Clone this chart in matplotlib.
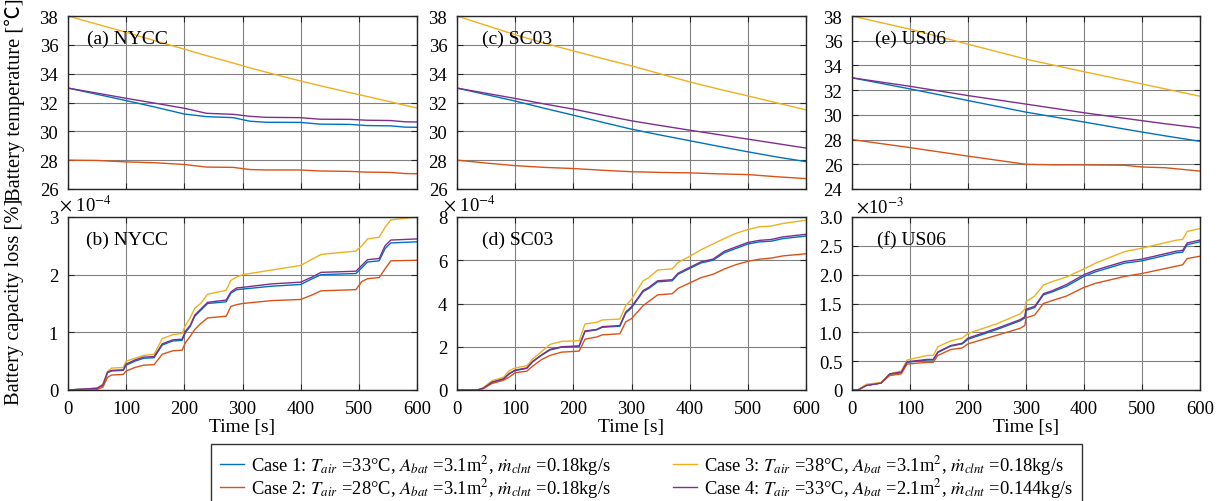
import matplotlib
matplotlib.use("Agg")
import matplotlib.pyplot as plt
from matplotlib.ticker import FuncFormatter, MultipleLocator
from matplotlib.lines import Line2D

plt.rcParams['font.family'] = ['Liberation Serif', 'Noto Sans CJK SC', 'DejaVu Sans']
plt.rcParams['mathtext.fontset'] = 'stix'

# ---------------- data ----------------
cases = ["Case 1", "Case 2", "Case 3", "Case 4"]
legend_labels = [
    r"Case 1: $T_{air}$ =33°C, $A_{bat}$ =3.1m$^2$, $\dot{m}_{clnt}$ =0.18kg/s",
    r"Case 2: $T_{air}$ =28°C, $A_{bat}$ =3.1m$^2$, $\dot{m}_{clnt}$ =0.18kg/s",
    r"Case 3: $T_{air}$ =38°C, $A_{bat}$ =3.1m$^2$, $\dot{m}_{clnt}$ =0.18kg/s",
    r"Case 4: $T_{air}$ =33°C, $A_{bat}$ =2.1m$^2$, $\dot{m}_{clnt}$ =0.144kg/s",
]
colors = ["#0072BD", "#D95319", "#EDB120", "#7E2F8E"]

# (a) NYCC battery temperature [degC]
t_a = [0, 50, 100, 150, 200, 238, 284, 313, 341, 399, 433, 485, 514, 554, 580, 600]
temp_a_c1 = [33.0, 32.57, 32.13, 31.68, 31.2, 31.02, 30.95, 30.70, 30.63, 30.62, 30.5, 30.48, 30.4, 30.38, 30.29, 30.28]
temp_a_c2 = [28.0, 27.98, 27.88, 27.82, 27.7, 27.52, 27.5, 27.35, 27.32, 27.32, 27.25, 27.22, 27.17, 27.15, 27.07, 27.06]
temp_a_c3 = [38.0, 37.43, 36.87, 36.28, 35.7, 35.25, 34.74, 34.4, 34.1, 33.5, 33.17, 32.68, 32.42, 32.05, 31.8, 31.62]
temp_a_c4 = [33.0, 32.65, 32.29, 31.95, 31.6, 31.25, 31.18, 31.04, 30.97, 30.95, 30.84, 30.83, 30.77, 30.75, 30.66, 30.65]

# (c) SC03 battery temperature [degC]
t_c = [0, 50, 100, 150, 200, 250, 300, 350, 400, 450, 500, 550, 600]
temp_c_c1 = [33.0, 32.55, 32.1, 31.6, 31.12, 30.63, 30.15, 29.74, 29.35, 28.96, 28.58, 28.22, 27.9]
temp_c_c2 = [28.0, 27.8, 27.62, 27.5, 27.42, 27.3, 27.2, 27.15, 27.12, 27.05, 27.0, 26.85, 26.72]
temp_c_c3 = [38.0, 37.35, 36.7, 36.12, 35.58, 35.05, 34.54, 33.98, 33.43, 32.93, 32.46, 31.97, 31.49]
temp_c_c4 = [33.0, 32.64, 32.28, 31.9, 31.54, 31.13, 30.73, 30.4, 30.08, 29.77, 29.46, 29.15, 28.84]

# (e) US06 battery temperature [degC]
t_e = [0, 100, 200, 300, 350, 400, 470, 500, 540, 600]
temp_e_c1 = [33.0, 32.1, 31.16, 30.22, 29.82, 29.42, 28.85, 28.61, 28.3, 27.86]
temp_e_c2 = [28.0, 27.35, 26.66, 26.0, 25.95, 25.95, 25.92, 25.78, 25.72, 25.45]
temp_e_c3 = [38.0, 36.93, 35.72, 34.51, 34.0, 33.49, 32.8, 32.5, 32.1, 31.51]
temp_e_c4 = [33.0, 32.31, 31.56, 30.87, 30.52, 30.17, 29.72, 29.53, 29.28, 28.94]

# (b) NYCC capacity loss [x1e-4 %]
t_b = [0, 50, 60, 68, 75, 95, 100, 115, 130, 148, 162, 180, 196, 202, 210, 218, 228,
       240, 272, 280, 290, 300, 350, 400, 420, 435, 495, 505, 515, 535, 545, 555, 600]
loss_b_c1 = [0, 0.03, 0.08, 0.30, 0.33, 0.34, 0.43, 0.50, 0.55, 0.56, 0.78, 0.85, 0.86, 1.00, 1.10, 1.28, 1.38,
             1.50, 1.53, 1.68, 1.74, 1.75, 1.80, 1.83, 1.93, 2.00, 2.02, 2.12, 2.22, 2.24, 2.45, 2.55, 2.57]
loss_b_c2 = [0, 0.01, 0.05, 0.22, 0.26, 0.27, 0.33, 0.39, 0.43, 0.44, 0.62, 0.68, 0.69, 0.82, 0.93, 1.05, 1.15,
             1.25, 1.28, 1.45, 1.48, 1.50, 1.55, 1.57, 1.65, 1.72, 1.74, 1.88, 1.93, 1.95, 2.10, 2.24, 2.25]
loss_b_c3 = [0, 0.03, 0.10, 0.32, 0.38, 0.39, 0.50, 0.55, 0.60, 0.62, 0.89, 0.96, 0.98, 1.12, 1.25, 1.42, 1.50,
             1.66, 1.73, 1.90, 1.96, 2.00, 2.08, 2.16, 2.27, 2.35, 2.41, 2.50, 2.62, 2.65, 2.82, 2.95, 3.0]
loss_b_c4 = [0, 0.03, 0.09, 0.31, 0.34, 0.35, 0.45, 0.52, 0.57, 0.58, 0.80, 0.87, 0.88, 1.02, 1.12, 1.30, 1.40,
             1.52, 1.56, 1.70, 1.77, 1.78, 1.84, 1.87, 1.96, 2.04, 2.06, 2.16, 2.26, 2.28, 2.50, 2.60, 2.62]

# (d) SC03 capacity loss [x1e-4 %]
t_d = [0, 35, 45, 60, 80, 90, 100, 120, 130, 145, 160, 180, 210, 220, 240, 250, 280, 290, 300,
       320, 330, 345, 370, 380, 400, 420, 440, 460, 480, 500, 520, 540, 560, 600]
loss_d_c1 = [0, 0, 0.08, 0.35, 0.50, 0.75, 0.90, 1.00, 1.30, 1.60, 1.85, 1.98, 2.02, 2.70, 2.78, 2.90, 2.95, 3.55, 3.80,
             4.55, 4.70, 5.00, 5.05, 5.35, 5.62, 5.88, 6.00, 6.35, 6.55, 6.75, 6.85, 6.88, 7.00, 7.12]
loss_d_c2 = [0, 0, 0.06, 0.30, 0.45, 0.60, 0.80, 0.87, 1.10, 1.40, 1.60, 1.75, 1.80, 2.35, 2.45, 2.55, 2.60, 3.15, 3.30,
             3.90, 4.10, 4.40, 4.45, 4.70, 4.95, 5.20, 5.35, 5.60, 5.80, 5.95, 6.05, 6.10, 6.20, 6.30]
loss_d_c3 = [0, 0, 0.10, 0.43, 0.59, 0.90, 1.02, 1.12, 1.43, 1.77, 2.11, 2.25, 2.28, 3.05, 3.13, 3.24, 3.28, 3.90, 4.20,
             5.05, 5.20, 5.55, 5.60, 5.90, 6.18, 6.49, 6.75, 7.01, 7.25, 7.42, 7.55, 7.58, 7.70, 7.85]
loss_d_c4 = [0, 0, 0.08, 0.36, 0.52, 0.77, 0.92, 1.02, 1.32, 1.62, 1.88, 2.00, 2.04, 2.73, 2.80, 2.93, 2.98, 3.60, 3.85,
             4.60, 4.75, 5.05, 5.10, 5.40, 5.67, 5.93, 6.05, 6.42, 6.62, 6.82, 6.92, 6.96, 7.08, 7.20]

# (f) US06 capacity loss [x1e-3 %]
t_f = [0, 10, 25, 50, 65, 85, 95, 130, 140, 148, 170, 190, 200, 250, 290, 298, 300, 315, 330,
       345, 370, 400, 420, 470, 500, 560, 570, 578, 600]
loss_f_c1 = [0, 0, 0.08, 0.12, 0.27, 0.30, 0.48, 0.52, 0.52, 0.65, 0.76, 0.80, 0.88, 1.05, 1.20, 1.25, 1.38, 1.43, 1.65,
             1.70, 1.80, 1.97, 2.05, 2.20, 2.24, 2.38, 2.39, 2.52, 2.57]
loss_f_c2 = [0, 0, 0.08, 0.12, 0.25, 0.28, 0.45, 0.48, 0.48, 0.60, 0.70, 0.73, 0.80, 0.95, 1.07, 1.12, 1.25, 1.30, 1.50,
             1.55, 1.63, 1.78, 1.85, 1.97, 2.02, 2.15, 2.17, 2.28, 2.32]
loss_f_c3 = [0, 0, 0.10, 0.13, 0.28, 0.33, 0.52, 0.60, 0.60, 0.75, 0.85, 0.90, 0.98, 1.15, 1.32, 1.40, 1.53, 1.63, 1.82,
             1.88, 1.96, 2.10, 2.20, 2.40, 2.46, 2.60, 2.61, 2.75, 2.80]
loss_f_c4 = [0, 0, 0.08, 0.12, 0.28, 0.31, 0.49, 0.53, 0.53, 0.66, 0.77, 0.81, 0.90, 1.07, 1.22, 1.27, 1.40, 1.45, 1.67,
             1.72, 1.83, 2.00, 2.08, 2.23, 2.27, 2.41, 2.42, 2.55, 2.60]

panel_titles = ["(a) NYCC", "(c) SC03", "(e) US06", "(b) NYCC", "(d) SC03", "(f) US06"]

# ---------------- figure ----------------
W, H = 1229, 502
fig = plt.figure(figsize=(W / 100, H / 100), dpi=100)

def px_axes(l, t, r, b):
    return fig.add_axes([l / W, 1 - b / H, (r - l) / W, (b - t) / H])

cols = [(68, 417), (457, 806), (852, 1200)]
rows = [(17, 190), (218, 391)]

top_data = [(t_a, [temp_a_c1, temp_a_c2, temp_a_c3, temp_a_c4]),
            (t_c, [temp_c_c1, temp_c_c2, temp_c_c3, temp_c_c4]),
            (t_e, [temp_e_c1, temp_e_c2, temp_e_c3, temp_e_c4])]
bot_data = [(t_b, [loss_b_c1, loss_b_c2, loss_b_c3, loss_b_c4]),
            (t_d, [loss_d_c1, loss_d_c2, loss_d_c3, loss_d_c4]),
            (t_f, [loss_f_c1, loss_f_c2, loss_f_c3, loss_f_c4])]
top_ylims = [(26, 38), (26, 38), (24, 38)]
bot_ylims = [(0, 3), (0, 8), (0, 3)]
bot_steps = [1, 2, 0.5]
offset_texts = [(59, 205, r"$\times$ 10$^{-4}$"), (443, 205, r"$\times$ 10$^{-4}$"), (856, 207, r"$\times$10$^{-3}$")]
title_x = [(0.054, 0.072, 0.066), (0.052, 0.072, 0.072)]

FS_TICK = 13.5
FS_TXT = 14
FS_YL = 14.8
FS_LEG = 13.3

def style(ax):
    ax.set_xlim(0, 600)
    ax.xaxis.set_major_locator(MultipleLocator(100))
    ax.grid(True, color="#808080", lw=0.8)
    ax.set_axisbelow(True)
    ax.tick_params(direction="in", top=True, right=True, length=4, width=0.8,
                   labelsize=FS_TICK, pad=7, color="#262626")
    for s in ax.spines.values():
        s.set_linewidth(1.0)
        s.set_color("#262626")

for i, (l, r) in enumerate(cols):
    ax = px_axes(l, rows[0][0], r, rows[0][1])
    t, ys = top_data[i]
    for y, c in zip(ys, colors):
        ax.plot(t, y, color=c, lw=1.0)
    style(ax)
    ax.set_ylim(*top_ylims[i])
    ax.yaxis.set_major_locator(MultipleLocator(2))
    ax.tick_params(labelbottom=False)
    ax.text(title_x[0][i], 0.873, panel_titles[i], transform=ax.transAxes,
            fontsize=FS_TXT, va="center", ha="left")

    ax2 = px_axes(l, rows[1][0], r, rows[1][1])
    t, ys = bot_data[i]
    for y, c in zip(ys, colors):
        ax2.plot(t, y, color=c, lw=1.0)
    style(ax2)
    ax2.set_ylim(*bot_ylims[i])
    ax2.yaxis.set_major_locator(MultipleLocator(bot_steps[i]))
    if bot_steps[i] < 1:
        ax2.yaxis.set_major_formatter(FuncFormatter(lambda v, p: "0" if v == 0 else f"{v:.1f}"))
    else:
        ax2.yaxis.set_major_formatter(FuncFormatter(lambda v, p: f"{v:g}"))
    ax2.set_xlabel("Time [s]", fontsize=FS_TXT, labelpad=1)
    ax2.text(title_x[1][i], 0.873, panel_titles[3 + i], transform=ax2.transAxes,
             fontsize=FS_TXT, va="center", ha="left")
    ox, oy, otxt = offset_texts[i]
    fig.text(ox / W, 1 - oy / H, otxt, fontsize=FS_TICK, ha="left", va="center")

fig.text(15 / W, 1 - 100 / H, "Battery temperature [℃]", rotation=90,
         fontsize=FS_YL, ha="center", va="center")
fig.text(15 / W, 1 - 302 / H, "Battery capacity loss [%]", rotation=90,
         fontsize=FS_YL, ha="center", va="center")

handles = [Line2D([], [], color=c, lw=1.0) for c in colors]
leg = fig.legend(handles, legend_labels, ncol=2, loc="upper left",
                 bbox_to_anchor=(211 / W, 1 - 445 / H), fontsize=FS_LEG,
                 frameon=True, fancybox=False, handlelength=1.3, handletextpad=0.35,
                 columnspacing=3.4, borderpad=0.5, labelspacing=-0.05, borderaxespad=0)
leg.get_frame().set_edgecolor("black")
leg.get_frame().set_linewidth(1.0)

fig.savefig("out.png", dpi=100)
